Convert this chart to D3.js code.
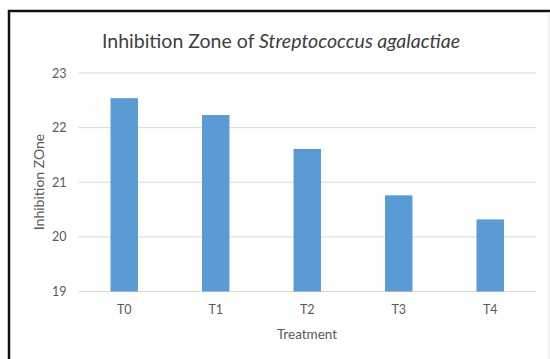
<!DOCTYPE html>
<html><head><meta charset="utf-8">
<script src="https://cdn.jsdelivr.net/npm/d3@7"></script>
<style>html,body{margin:0;padding:0;background:#fff;}svg{display:block;}</style>
</head><body>
<script>
const categories = ["T0","T1","T2","T3","T4"];
const values = [22.54, 22.23, 21.61, 20.76, 20.32];
const yTicks = [19, 20, 21, 22, 23];
const titleRegular = "Inhibition Zone of ";
const titleItalic = "Streptococcus agalactiae";
const xTitle = "Treatment";
const yTitle = "Inhibition ZOne";

(function(){
const W = 550, H = 359;
const svg = d3.select("body").append("svg").attr("width", W).attr("height", H);
const font = "Lato, 'Open Sans', sans-serif";

// frame
svg.append("rect").attr("x",0).attr("y",0).attr("width",W).attr("height",H).attr("fill","#fff");
svg.append("line").attr("x1",8).attr("x2",W).attr("y1",11).attr("y2",11).attr("stroke","#111").attr("stroke-width",2.5);
svg.append("line").attr("x1",9).attr("x2",9).attr("y1",10).attr("y2",H).attr("stroke","#111").attr("stroke-width",2.5);
svg.append("line").attr("x1",549).attr("x2",549).attr("y1",12).attr("y2",H).attr("stroke","#e0e0e0").attr("stroke-width",1);

const mLeft = 78.5, mRight = 536, mTop = 73, mBottom = 291.5;
const x = d3.scaleBand().domain(categories).range([mLeft, mRight]).paddingInner(0.7).paddingOuter(0.35);
const y = d3.scaleLinear().domain([19, 23]).range([mBottom, mTop]);

// gridlines
svg.append("g").selectAll("line").data(yTicks).join("line")
  .attr("x1", mLeft).attr("x2", mRight)
  .attr("y1", d => y(d)).attr("y2", d => y(d))
  .attr("stroke", "#d9d9d9").attr("stroke-width", 1);

// bars
svg.append("g").selectAll("rect").data(values).join("rect")
  .attr("x", (d,i) => x(categories[i]))
  .attr("width", x.bandwidth())
  .attr("y", d => y(d))
  .attr("height", d => y(19) - y(d))
  .attr("fill", "#5b9bd5");

// y axis labels
const yAxis = d3.axisLeft(y).tickValues(yTicks).tickSize(0).tickPadding(12).tickFormat(d3.format("d"));
const gy = svg.append("g").attr("transform", `translate(${mLeft},0)`).call(yAxis);
gy.select(".domain").remove();
gy.selectAll("text").attr("font-family", font).attr("font-size", 12.5).attr("fill", "#595959");

// x axis labels
const xAxis = d3.axisBottom(x).tickSize(0).tickPadding(14);
const gx = svg.append("g").attr("transform", `translate(0,${mBottom})`).call(xAxis);
gx.select(".domain").remove();
gx.selectAll("text").attr("font-family", font).attr("font-size", 12.5).attr("fill", "#595959");

// title
const t = svg.append("text").attr("x", 281).attr("y", 48).attr("text-anchor", "middle")
  .attr("font-family", font).attr("font-size", 19.5).attr("fill", "#404040");
t.append("tspan").text(titleRegular);
t.append("tspan").attr("font-style", "italic").text(titleItalic);

// axis titles
svg.append("text").attr("x", 307).attr("y", 339).attr("text-anchor", "middle")
  .attr("font-family", font).attr("font-size", 13.5).attr("fill", "#595959").text(xTitle);
svg.append("text").attr("transform", "translate(44,182) rotate(-90)").attr("text-anchor", "middle")
  .attr("font-family", font).attr("font-size", 14).attr("fill", "#595959").text(yTitle);
})();
</script>
</body></html>
